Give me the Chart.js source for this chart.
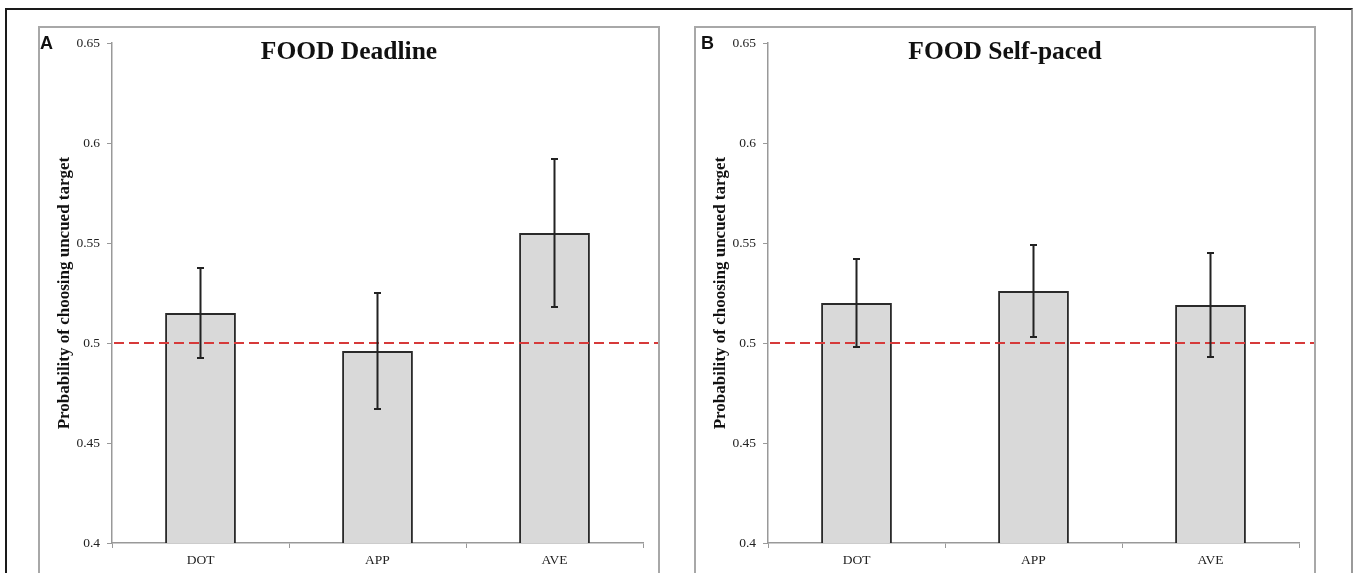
<!DOCTYPE html>
<html>
<head>
<meta charset="utf-8">
<script src="https://cdn.jsdelivr.net/npm/chart.js@4.4.1/dist/chart.umd.min.js"></script>
<style>
  body { margin:0; width:1354px; height:573px; overflow:hidden; background:#fff; position:relative; }
  .frame { position:absolute; left:5px; top:8px; width:1348px; height:600px; box-sizing:border-box;
           border-top:2px solid #1a1a1a; border-left:2px solid #1a1a1a; border-right:2px solid #9a9a9a; }
  .panel { position:absolute; top:26px; width:622px; height:562px; box-sizing:border-box; border:2px solid #a8a8a8; background:#fff; }
  .panel canvas { display:block; }
  .title { position:absolute; top:8px; left:0; width:618px; text-align:center;
           font:bold 25.5px "Liberation Serif", "Times New Roman", serif; color:#111; }
  .letter { position:absolute; font:bold 18px "Liberation Sans", Arial, sans-serif; color:#111; }
</style>
</head>
<body>
<div class="frame"></div>
<div class="panel" style="left:38px"><div class="title">FOOD Deadline</div><canvas id="chartA"></canvas></div>
<div class="panel" style="left:694px"><div class="title">FOOD Self-paced</div><canvas id="chartB"></canvas></div>
<div class="letter" style="left:40px; top:33px">A</div>
<div class="letter" style="left:701px; top:33px">B</div>
<script>
// Data
const categories = ['DOT', 'APP', 'AVE'];
const deadlineMeans = [0.515, 0.496, 0.555];
const deadlineErr = [0.0225, 0.029, 0.037];
const selfPacedMeans = [0.520, 0.526, 0.519];
const selfPacedErr = [0.022, 0.023, 0.026];
const chanceLevel = 0.5;
const yTicks = [0.4, 0.45, 0.5, 0.55, 0.6, 0.65];

const serif = '"Liberation Serif", "Times New Roman", serif';

// red dashed chance line, from the y axis to the panel edge
const chanceLine = {
  id: 'chanceLine',
  afterDatasetsDraw(chart) {
    const y = chart.scales.y.getPixelForValue(chanceLevel);
    const ctx = chart.ctx;
    ctx.save();
    ctx.strokeStyle = '#d63a3a';
    ctx.lineWidth = 2;
    ctx.setLineDash([10, 5]);
    ctx.beginPath();
    ctx.moveTo(chart.chartArea.left + 2, y);
    ctx.lineTo(chart.width, y);
    ctx.stroke();
    ctx.restore();
  }
};

// error bars with small caps
const errorBars = {
  id: 'errorBars',
  afterDraw(chart, args, opts) {
    const ctx = chart.ctx;
    const yScale = chart.scales.y;
    const meta = chart.getDatasetMeta(0);
    const means = chart.data.datasets[0].data;
    ctx.save();
    ctx.strokeStyle = '#222';
    ctx.lineWidth = 2;
    meta.data.forEach((bar, i) => {
      const x = bar.x;
      const top = yScale.getPixelForValue(means[i] + opts.errors[i]);
      const bot = yScale.getPixelForValue(means[i] - opts.errors[i]);
      ctx.beginPath();
      ctx.moveTo(x, top); ctx.lineTo(x, bot);
      ctx.moveTo(x - 3.5, top); ctx.lineTo(x + 3.5, top);
      ctx.moveTo(x - 3.5, bot); ctx.lineTo(x + 3.5, bot);
      ctx.stroke();
    });
    ctx.restore();
  }
};

function makeChart(id, means, errs) {
  const canvas = document.getElementById(id);
  canvas.width = 618; canvas.height = 558;
  return new Chart(canvas, {
    type: 'bar',
    data: {
      labels: categories,
      datasets: [{
        data: means,
        backgroundColor: '#d9d9d9',
        borderColor: '#2a2a2a',
        borderWidth: 2,
        borderSkipped: 'bottom',
        barPercentage: 0.4,
        categoryPercentage: 1.0
      }]
    },
    options: {
      responsive: false,
      animation: false,
      layout: { padding: { top: 14, right: 15, left: 0, bottom: 0 } },
      plugins: {
        legend: { display: false },
        tooltip: { enabled: false },
        errorBars: { errors: errs }
      },
      scales: {
        x: {
          afterFit(scale) { scale.height = 43; },
          grid: { drawOnChartArea: false, drawTicks: true, tickLength: 5, tickColor: '#999', offset: true },
          border: { color: '#999', width: 1.5 },
          ticks: { color: '#222', font: { family: serif, size: 13.5 }, padding: 4 }
        },
        y: {
          min: 0.4, max: 0.65,
          afterFit(scale) { scale.width = 72; },
          afterBuildTicks(scale) { scale.ticks = yTicks.map(v => ({ value: v })); },
          grid: { drawOnChartArea: false, drawTicks: true, tickLength: 5, tickColor: '#999' },
          border: { color: '#999', width: 1.5 },
          ticks: { color: '#222', font: { family: serif, size: 13.5 }, padding: 7,
                   callback: v => String(+v.toFixed(2)) },
          title: {
            display: true,
            text: 'Probability of choosing uncued target',
            color: '#111',
            font: { family: serif, size: 17, weight: 'bold' },
            padding: { top: 14, bottom: 0 }
          }
        }
      }
    },
    plugins: [chanceLine, errorBars]
  });
}

makeChart('chartA', deadlineMeans, deadlineErr);
makeChart('chartB', selfPacedMeans, selfPacedErr);
</script>
</body>
</html>
